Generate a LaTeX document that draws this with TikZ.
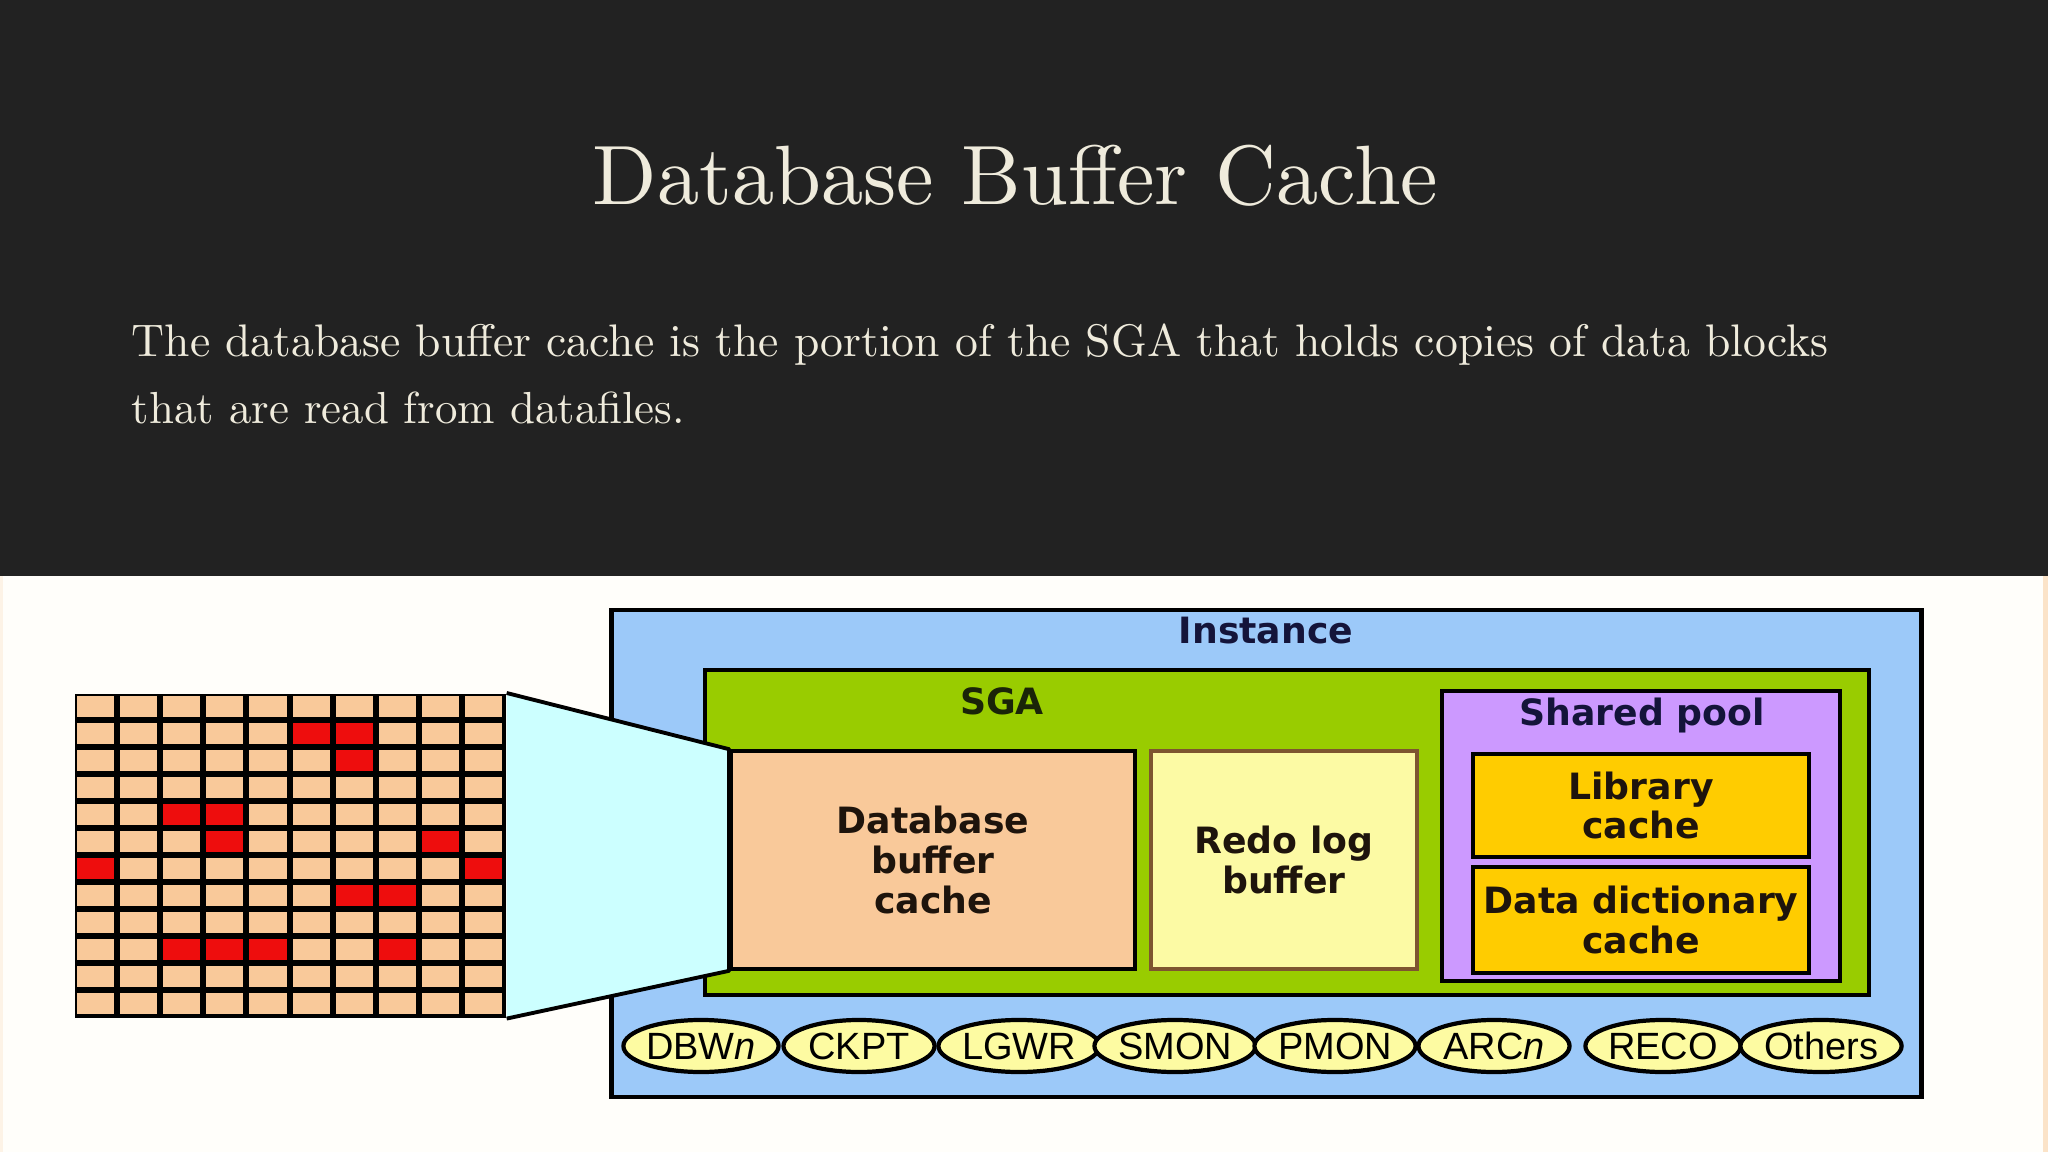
\documentclass[tikz,border=0pt]{standalone}
\usepackage{fontspec}
\setsansfont{DejaVu Sans}
\newfontfamily\procfont{Liberation Sans}
\usetikzlibrary{shapes.geometric,backgrounds,shadings}
\definecolor{slidebg}{HTML}{222222}
\definecolor{paper}{HTML}{FFFEFA}
\definecolor{edgebeige}{HTML}{FBE3C8}
\definecolor{titlecol}{HTML}{EFEBDC}
\definecolor{instblue}{HTML}{9CC9F9}
\definecolor{sgagreen}{HTML}{99CC00}
\definecolor{peach}{HTML}{F9C99A}
\definecolor{paleyellow}{HTML}{FCFAA4}
\definecolor{redobrown}{HTML}{7E5530}
\definecolor{lavender}{HTML}{CC99FF}
\definecolor{gold}{HTML}{FFCC00}
\definecolor{cyanpale}{HTML}{CCFFFF}
\definecolor{blockred}{HTML}{EE0D0D}
\definecolor{inktext}{HTML}{1E140C}
\definecolor{navytext}{HTML}{14143A}
\definecolor{sgatext}{HTML}{1A2408}
\definecolor{ovalyellow}{HTML}{FDFBA2}
\pgfdeclareradialshading{ovalshade}{\pgfpoint{0bp}{0bp}}{%
  color(0bp)=(ovalyellow); color(26bp)=(ovalyellow); color(40bp)=(instblue!45!ovalyellow); color(52bp)=(instblue); color(100bp)=(instblue)}
\tikzset{
  memfont/.style={font=\sffamily\bfseries\fontsize{10.3}{11.3}\selectfont},
  memlabel/.style={memfont, text=inktext, align=center, inner sep=0pt},
  membox/.style={draw=black, line width=1pt, inner sep=0pt, memfont, text=inktext, align=center},
  proc/.style={ellipse, draw=black, line width=1.2pt, minimum width=1.51cm, minimum height=0.52cm,
    inner sep=0pt, shading=ovalshade,
    font=\procfont\fontsize{10.8}{12}\selectfont, text=black},
  slidetext/.style={anchor=base west, inner sep=0pt, text=titlecol}
}
\begin{document}
\begin{tikzpicture}[x=0.01cm,y=-0.01cm]
\useasboundingbox (0,0) rectangle (2048,1152);

% heading and text
\node[slidetext] (title) at (592,205) {\resizebox{8.45cm}{!}{Database Buffer Cache}};
\node[slidetext] (body1) at (131,357) {\resizebox{16.96cm}{!}{The database buffer cache is the portion of the SGA that holds copies of data blocks}};
\node[slidetext] (body2) at (131,424) {\resizebox{5.53cm}{!}{that are read from datafiles.}};

% slide background and containers on the background layer
\begin{scope}[on background layer]
\fill[slidebg] (0,0) rectangle (2048,576);
\fill[paper] (0,576) rectangle (2048,1152);
\fill[edgebeige] (2043,576) rectangle (2048,1152);
\fill[edgebeige!40!paper] (0,576) rectangle (3,1152);
\node[draw=black, line width=1.3pt, fill=instblue, minimum width=13.09cm, minimum height=4.87cm, inner sep=0pt] (inst) at (1266.5,853.5) {};
\node[draw=black, line width=1.1pt, fill=sgagreen, minimum width=11.64cm, minimum height=3.25cm, inner sep=0pt] (sga) at (1287,832.5) {};
\end{scope}

\node[memlabel, text=navytext] (instlbl) at (1266,631) {Instance};
\node[memlabel, text=sgatext] (sgalbl) at (1002,701) {SGA};

% buffer blocks grid
\node[fill=black, minimum width=4.31cm, minimum height=3.24cm, inner sep=0pt, anchor=north west] (grid) at (74,693) {};
\foreach \c in {0,...,9} {
  \foreach \r in {0,...,11} {
    \fill[peach] ({74+\c*43.1+3},{693+\r*27+3}) rectangle ++(37.1,21);
  }
}
\foreach \c/\r in {5/1,6/1,6/2,2/4,3/4,3/5,8/5,0/6,9/6,6/7,7/7,2/9,3/9,4/9,7/9} {
  \fill[blockred] ({74+\c*43.1+3},{693+\r*27+3}) rectangle ++(37.1,21);
}

% SGA components
\node[membox, fill=peach, minimum width=4.04cm, minimum height=2.18cm] (dbc) at (933,860) {Database\\buffer\\cache};
\node[membox, draw=redobrown, fill=paleyellow, minimum width=2.66cm, minimum height=2.18cm] (redo) at (1284,860) {Redo log\\buffer};
\node[membox, fill=lavender, minimum width=3.98cm, minimum height=2.90cm] (sp) at (1641,836) {};
\node[memlabel, text=navytext] (splbl) at (1642,716) {Shared pool};
\node[membox, fill=gold, minimum width=3.36cm, minimum height=1.03cm] (lib) at (1641,805.5) {Library\\cache};
\node[membox, fill=gold, minimum width=3.36cm, minimum height=1.06cm] (ddc) at (1641,920) {Data dictionary\\cache};

% zoom trapezoid
\begin{scope}[on background layer]
\filldraw[fill=cyanpale, draw=black, line width=1.1pt, line join=round]
  (grid.north east) -- (dbc.north west) -- (dbc.south west) -- (grid.south east);
\end{scope}

% background processes
\node[proc] (dbwn) at (701,1046) {DBW\textit{n}};
\node[proc] (ckpt) at (859,1046) {CKPT};
\node[proc] (lgwr) at (1019,1046) {LGWR};
\node[proc] (smon) at (1175,1046) {SMON};
\node[proc] (pmon) at (1335,1046) {PMON};
\node[proc] (arcn) at (1494,1046) {ARC\textit{n}};
\node[proc] (reco) at (1663,1046) {RECO};
\node[proc] (others) at (1821,1046) {Others};
\end{tikzpicture}
\end{document}
